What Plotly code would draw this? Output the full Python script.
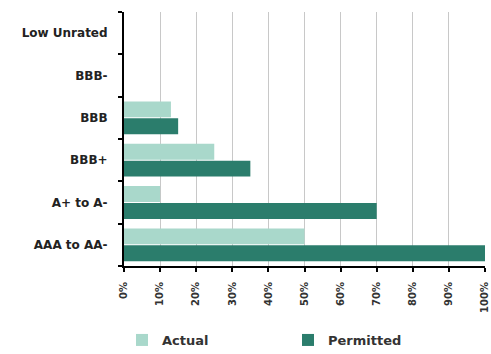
import plotly.graph_objects as go

categories = ["AAA to AA-", "A+ to A-", "BBB+", "BBB", "BBB-", "Low Unrated"]
actual = [50, 10, 25, 13, 0, 0]
permitted = [100, 70, 35, 15, 0, 0]
x_ticks = [0, 10, 20, 30, 40, 50, 60, 70, 80, 90, 100]
x_tick_labels = [f"{v}%" for v in x_ticks]

fig = go.Figure()
fig.add_trace(go.Bar(
    y=categories, x=permitted, orientation="h", name="Permitted",
    marker=dict(color="#2b7d6c", line=dict(width=0)), legend="legend2",
))
fig.add_trace(go.Bar(
    y=categories, x=actual, orientation="h", name="Actual",
    marker=dict(color="#a9d8cb", line=dict(width=0)), legend="legend",
))

legend_font = dict(family="DejaVu Sans, sans-serif", size=13, weight="bold", color="#333")
fig.update_layout(
    width=491, height=354,
    margin=dict(l=124, r=6, t=12, b=88, autoexpand=False),
    paper_bgcolor="white", plot_bgcolor="white",
    barmode="group", bargap=0.2, bargroupgap=0.06,
    font=dict(family="Liberation Sans, Arial, sans-serif", size=10, color="#222"),
    showlegend=True,
    legend=dict(xref="container", yref="container", x=122 / 491, xanchor="left",
                y=1 - 340 / 354, yanchor="middle", font=legend_font,
                itemwidth=30, bgcolor="rgba(0,0,0,0)"),
    legend2=dict(xref="container", yref="container", x=288 / 491, xanchor="left",
                 y=1 - 340 / 354, yanchor="middle", font=legend_font,
                 itemwidth=30, bgcolor="rgba(0,0,0,0)"),
)
fig.update_xaxes(
    range=[0, 100], tickvals=x_ticks, ticktext=x_tick_labels, tickangle=-90,
    showgrid=True, gridcolor="#c8c8c8", gridwidth=1,
    showline=True, linecolor="black", linewidth=2,
    ticks="outside", ticklen=4, tickcolor="black", tickwidth=2,
    ticklabelstandoff=6,
    tickfont=dict(family="DejaVu Sans, sans-serif", size=10, weight="bold", color="#333"),
    zeroline=False, fixedrange=True, automargin=False,
)
fig.update_yaxes(
    categoryorder="array", categoryarray=categories,
    showline=True, linecolor="black", linewidth=2,
    ticks="outside", ticklen=4, tickcolor="black", tickwidth=2,
    tickson="boundaries", ticklabelstandoff=12,
    tickfont=dict(family="DejaVu Sans, sans-serif", size=12, weight="bold", color="#222"),
    showgrid=False, automargin=False,
)

fig.write_html("out.html")
